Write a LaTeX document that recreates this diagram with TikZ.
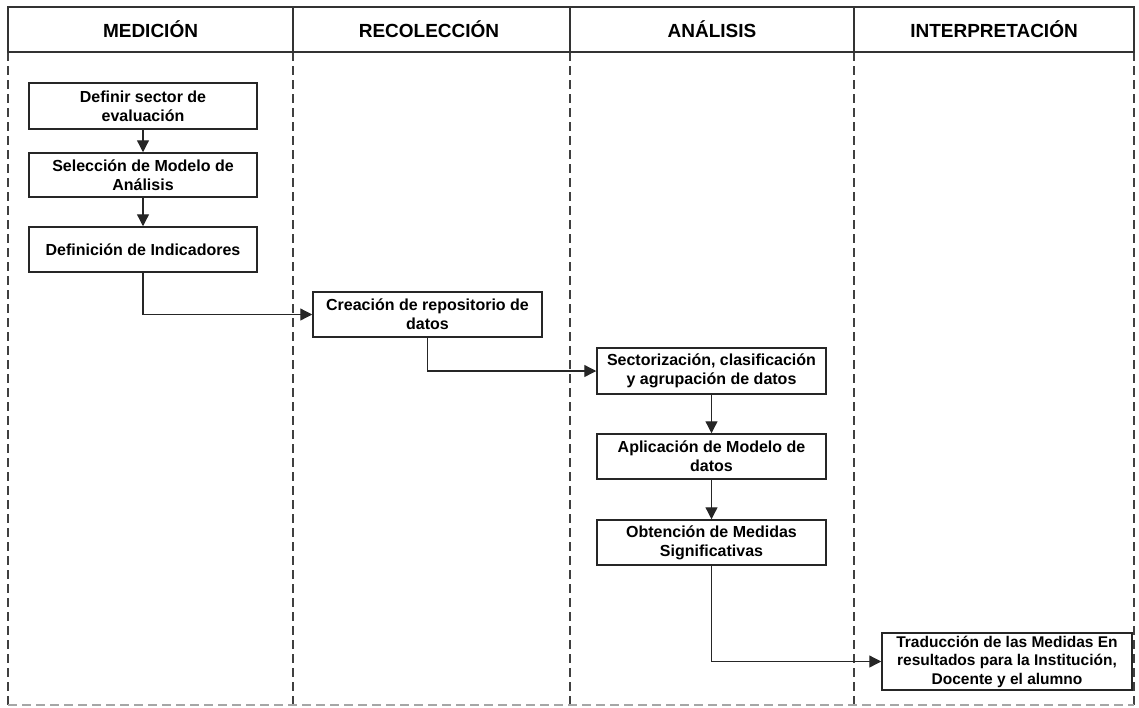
\documentclass[tikz,border=0pt]{standalone}
\usepackage{fontspec}
\setmainfont{Liberation Sans}
\usetikzlibrary{arrows.meta}
\begin{document}
\begin{tikzpicture}[x=1pt,y=-1pt,
  lane/.style={draw=black!75, line width=1.2pt, dash pattern=on 9pt off 5pt},
  hdr/.style={font=\fontsize{19}{22}\selectfont\bfseries},
  box/.style={draw=black!85, fill=white, line width=1.5pt, align=center,
              inner sep=0pt, font=\fontsize{16}{19}\selectfont\bfseries},
  arr/.style={draw=black!85, line width=1.3pt, -{Triangle[length=12pt,width=12pt]}}]
\useasboundingbox (0,0) rectangle (1139,707);

% swimlane borders (dashed)
\foreach \xx in {8,293,570,854,1134}
  \draw[lane] (\xx,52) -- (\xx,705);
\draw[draw=black!35, line width=1.2pt, dash pattern=on 9pt off 5pt] (8,705) -- (1134,705);

% header row
\draw[draw=black!80, line width=1.5pt] (8,7) rectangle (1134,52);
\foreach \xx in {293,570,854}
  \draw[draw=black!80, line width=1.5pt] (\xx,7) -- (\xx,52);
\node[hdr] (h1) at (150.5,29.5) {MEDICIÓN};
\node[hdr] (h2) at (429,29.5) {RECOLECCIÓN};
\node[hdr] (h3) at (712,29.5) {ANÁLISIS};
\node[hdr] (h4) at (994,29.5) {INTERPRETACIÓN};

% process steps
\node[box, minimum width=228pt, minimum height=46pt] (b1) at (143,106) {Definir sector de\\evaluación};
\node[box, minimum width=228pt, minimum height=44pt] (b2) at (143,175) {Selección de Modelo de\\Análisis};
\node[box, minimum width=228pt, minimum height=45pt] (b3) at (143,249.5) {Definición de Indicadores};
\node[box, minimum width=229pt, minimum height=45pt] (b4) at (427.5,314.5) {Creación de repositorio de\\datos};
\node[box, minimum width=229pt, minimum height=46pt] (b5) at (711.5,371) {Sectorización, clasificación\\y agrupación de datos};
\node[box, minimum width=229pt, minimum height=45pt] (b6) at (711.5,456.5) {Aplicación de Modelo de\\datos};
\node[box, minimum width=229pt, minimum height=45pt] (b7) at (711.5,542.5) {Obtención de Medidas\\Significativas};
\node[box, minimum width=250pt, minimum height=57pt, font=\fontsize{15.5}{18.5}\selectfont\bfseries] (b8) at (1007,661.5)
  {Traducción de las Medidas En\\resultados para la Institución,\\Docente y el alumno};

% flow
\draw[arr] (b1) -- (b2);
\draw[arr] (b2) -- (b3);
\draw[arr] (b3.south) |- (b4.west);
\draw[arr] (b4.south) |- (b5.west);
\draw[arr] (b5) -- (b6);
\draw[arr] (b6) -- (b7);
\draw[arr] (b7.south) |- (b8.west);
\end{tikzpicture}
\end{document}
